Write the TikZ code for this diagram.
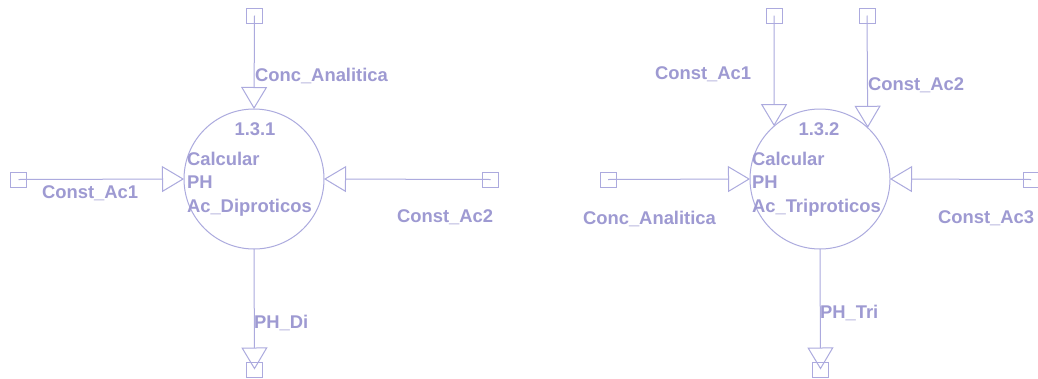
\documentclass[tikz,border=0pt]{standalone}
\usepackage{fontspec}
\setmainfont{Liberation Sans}
\usetikzlibrary{arrows.meta}
\definecolor{flowline}{RGB}{172,170,222}
\definecolor{flowtext}{RGB}{158,154,210}
\begin{document}
\begin{tikzpicture}[x=1pt,y=-1pt,
  every node/.style={inner sep=0pt, outer sep=0pt},
  proc/.style={circle, draw=flowline, line width=1pt, minimum size=140pt},
  term/.style={rectangle, draw=flowline, line width=1pt, minimum width=16pt, minimum height=15pt},
  flow/.style={draw=flowline, line width=1pt,
    -{Triangle[open, length=22pt, width=26pt, line width=1pt]}},
  lbl/.style={anchor=base west, text=flowtext, font=\fontsize{18.4}{22}\selectfont\bfseries},
  pid/.style={lbl, anchor=base}]
\useasboundingbox (0,0) rectangle (1038,378);
\clip (0,0) rectangle (1038,378);
\fill[white] (0,0) rectangle (1038,378);

% ---- process 1.3.1 ----
\node[proc] (c1) at (254,179) {};
\node[term] (t1) at (254.5,15.5) {};
\node[term] (l1) at (18.5,179.5) {};
\node[term] (r1) at (490.5,179.5) {};
\node[term] (b1) at (254.5,369.5) {};
\draw[flow] (t1.center) -- (c1.north);
\draw[flow] (l1.center) -- (c1.west);
\draw[flow] (r1.center) -- (c1.east);
\draw[flow] (c1.south) -- (b1.center);

\node[lbl] (t1lbl) at (255,81) {Conc\_Analitica};
\node[pid] (c1id) at (255,135) {1.3.1};
\node[lbl] (c1a) at (187,165) {Calcular};
\node[lbl] (c1b) at (187,188) {PH};
\node[lbl] (c1c) at (187,212) {Ac\_Diproticos};
\node[lbl] (l1lbl) at (42,198) {Const\_Ac1};
\node[lbl] (r1lbl) at (397,222) {Const\_Ac2};
\node[lbl] (b1lbl) at (254,328) {PH\_Di};

% ---- process 1.3.2 ----
\node[proc] (c2) at (820,179) {};
\node[term] (t2a) at (774,15.5) {};
\node[term] (t2b) at (867,15.5) {};
\node[term] (l2) at (608,179.5) {};
\node[term] (r2) at (1031,179.5) {};
\node[term] (b2) at (820.5,369.5) {};
\draw[flow] (t2a.center) -- (c2.131);
\draw[flow] (t2b.center) -- (c2.47.8);
\draw[flow] (l2.center) -- (c2.west);
\draw[flow] (r2.center) -- (c2.east);
\draw[flow] (c2.south) -- (b2.center);

\node[lbl] (t2albl) at (655,79) {Const\_Ac1};
\node[lbl] (t2blbl) at (868,90) {Const\_Ac2};
\node[pid] (c2id) at (819,135) {1.3.2};
\node[lbl] (c2a) at (752,165) {Calcular};
\node[lbl] (c2b) at (752,188) {PH};
\node[lbl] (c2c) at (752,212) {Ac\_Triproticos};
\node[lbl] (l2lbl) at (583,224) {Conc\_Analitica};
\node[lbl] (r2lbl) at (938,223) {Const\_Ac3};
\node[lbl] (b2lbl) at (820,318) {PH\_Tri};
\end{tikzpicture}
\end{document}
